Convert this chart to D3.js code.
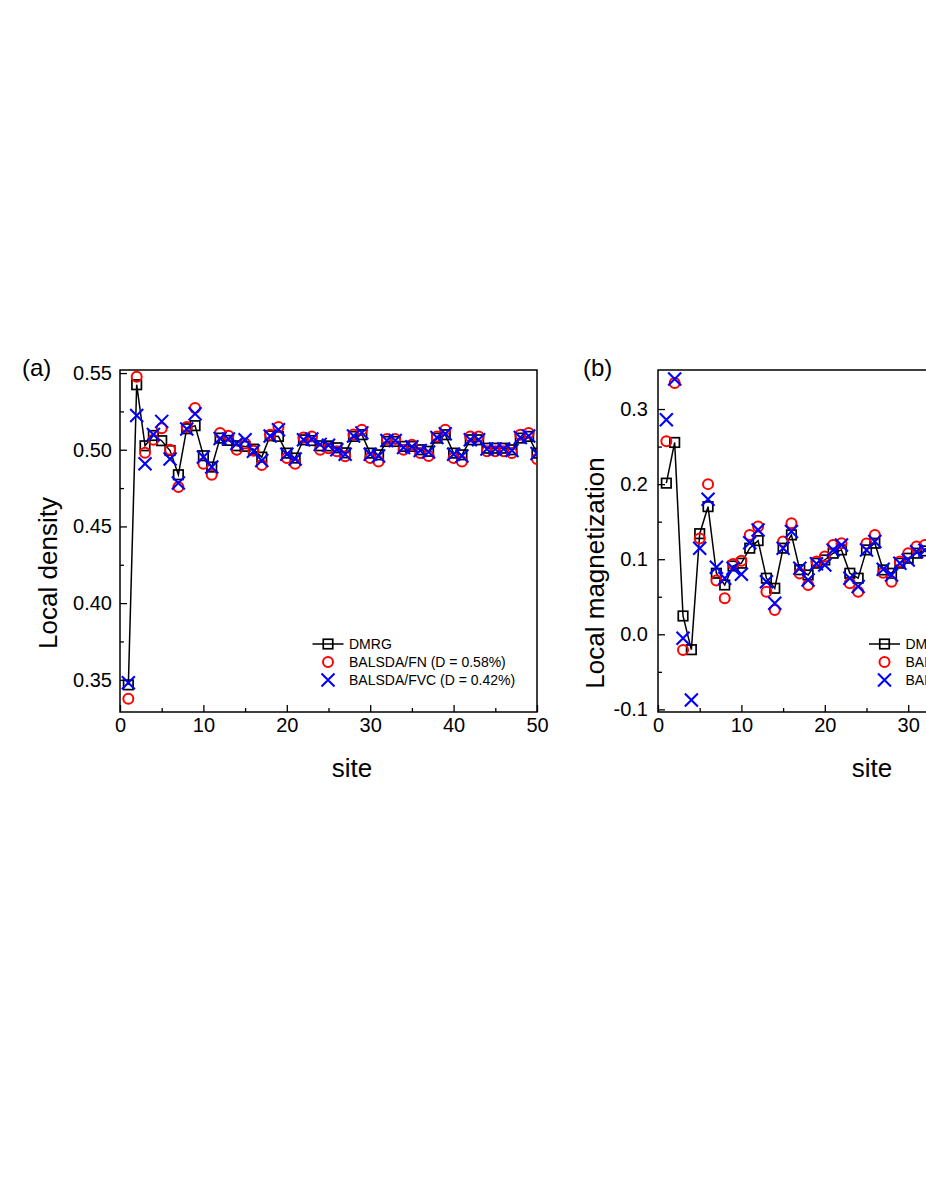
<!DOCTYPE html>
<html lang="en">

<head>
  <meta charset="UTF-8">
  <script src="https://d3js.org/d3.v7.min.js"></script>
  <title>Local density and local magnetization</title>
  <style>
    body {
      margin: 0;
      background-color: white;
    }

    svg text {
      font-family: "Liberation Sans", Arial, sans-serif;
      fill: black;
    }
  </style>
</head>

<body>
  <div id="chart"></div>
</body>

<script>
  // ---- data ----
  var sitesA = [1, 2, 3, 4, 5, 6, 7, 8, 9, 10, 11, 12, 13, 14, 15, 16, 17, 18, 19, 20,
    21, 22, 23, 24, 25, 26, 27, 28, 29, 30, 31, 32, 33, 34, 35, 36, 37, 38, 39, 40,
    41, 42, 43, 44, 45, 46, 47, 48, 49, 50];

  var dmrgA = [0.3467, 0.5424, 0.5026, 0.5093, 0.5059, 0.4995, 0.4837, 0.5137, 0.5157, 0.4961,
    0.4887, 0.5076, 0.5061, 0.5026, 0.5022, 0.5004, 0.4952, 0.5091, 0.5087, 0.4978,
    0.4946, 0.5065, 0.5060, 0.5026, 0.5025, 0.5013, 0.4980, 0.5087, 0.5098, 0.4978,
    0.4967, 0.5054, 0.5054, 0.5022, 0.5022, 0.5000, 0.4990, 0.5076, 0.5098, 0.4978,
    0.4967, 0.5065, 0.5065, 0.5010, 0.5010, 0.5010, 0.5000, 0.5076, 0.5087, 0.4978];

  var fnA = [0.3376, 0.5476, 0.4980, 0.5065, 0.5140, 0.5000, 0.4757, 0.5148, 0.5272, 0.4909,
    0.4837, 0.5109, 0.5091, 0.5000, 0.5040, 0.4994, 0.4900, 0.5098, 0.5148, 0.4946,
    0.4909, 0.5080, 0.5087, 0.5000, 0.5010, 0.4990, 0.4957, 0.5100, 0.5130, 0.4946,
    0.4924, 0.5070, 0.5070, 0.5000, 0.5033, 0.4978, 0.4960, 0.5087, 0.5130, 0.4946,
    0.4924, 0.5087, 0.5087, 0.4990, 0.4990, 0.4990, 0.4978, 0.5098, 0.5109, 0.4939];

  var fvcA = [0.3480, 0.5224, 0.4909, 0.5100, 0.5185, 0.4940, 0.4783, 0.5135, 0.5235, 0.4952,
    0.4887, 0.5074, 0.5070, 0.5040, 0.5065, 0.4990, 0.4930, 0.5090, 0.5130, 0.4970,
    0.4940, 0.5065, 0.5070, 0.5035, 0.5030, 0.5000, 0.4970, 0.5090, 0.5110, 0.4970,
    0.4960, 0.5060, 0.5060, 0.5015, 0.5020, 0.4995, 0.4985, 0.5080, 0.5105, 0.4970,
    0.4960, 0.5065, 0.5065, 0.5005, 0.5005, 0.5005, 0.4995, 0.5080, 0.5090, 0.4975];

  // panel (b) is cut by the page edge, only the visible sites are kept
  var sitesB = [1, 2, 3, 4, 5, 6, 7, 8, 9, 10, 11, 12, 13, 14, 15, 16,
    17, 18, 19, 20, 21, 22, 23, 24, 25, 26, 27, 28, 29, 30, 31, 32];

  var dmrgB = [0.2013, 0.2555, 0.0244, -0.0205, 0.1340, 0.1700, 0.0813, 0.0657, 0.0910, 0.0947,
    0.1147, 0.1248, 0.0747, 0.0613, 0.1147, 0.1324, 0.0860, 0.0790, 0.0947, 0.0990,
    0.1080, 0.1124, 0.0813, 0.0747, 0.1124, 0.1213, 0.0857, 0.0813, 0.0947, 0.1013,
    0.1080, 0.1110];

  var fnB = [0.2570, 0.3347, -0.0210, -0.1250, 0.1275, 0.2000, 0.0715, 0.0480, 0.0937, 0.0980,
    0.1324, 0.1435, 0.0568, 0.0324, 0.1235, 0.1480, 0.0810, 0.0657, 0.0968, 0.1035,
    0.1190, 0.1213, 0.0680, 0.0568, 0.1210, 0.1324, 0.0820, 0.0700, 0.0970, 0.1080,
    0.1168, 0.1190];

  var fvcB = [0.2857, 0.3400, -0.0053, -0.0876, 0.1147, 0.1800, 0.0893, 0.0747, 0.0880, 0.0800,
    0.1220, 0.1390, 0.0700, 0.0413, 0.1147, 0.1370, 0.0880, 0.0724, 0.0940, 0.0924,
    0.1124, 0.1190, 0.0747, 0.0635, 0.1124, 0.1235, 0.0867, 0.0790, 0.0947, 0.0990,
    0.1100, 0.1120];

  var xTicks = [0, 10, 20, 30, 40, 50];
  var xMinor = [5, 15, 25, 35, 45];
  var yTicksA = [0.35, 0.40, 0.45, 0.50, 0.55];
  var yMinorA = [0.375, 0.425, 0.475, 0.525];
  var yTicksB = [-0.1, 0.0, 0.1, 0.2, 0.3];
  var yMinorB = [-0.05, 0.05, 0.15, 0.25];

  var legendA = ["DMRG", "BALSDA/FN (D = 0.58%)", "BALSDA/FVC (D = 0.42%)"];
  var legendB = ["DMRG", "BALSDA/FN", "BALSDA/FVC"];

  var svg = d3.select("#chart")
    .append("svg")
    .attr("width", 926)
    .attr("height", 1199);

  var plotTop = 370, plotBottom = 712;

  function drawPanel(p) {
    var g = svg.append("g");

    var x = d3.scaleLinear().domain([0, 50]).range([p.left, p.left + 417]);
    var y = d3.scaleLinear().domain(p.yDomain).range([plotBottom, plotTop]);

    g.append("clipPath").attr("id", p.id + "clip")
      .append("rect")
      .attr("x", p.left).attr("y", plotTop)
      .attr("width", 417).attr("height", plotBottom - plotTop);

    // frame
    g.append("rect")
      .attr("x", p.left).attr("y", plotTop)
      .attr("width", 417).attr("height", plotBottom - plotTop)
      .attr("fill", "none")
      .attr("stroke", "black")
      .attr("stroke-width", 1.5);

    // bottom axis, ticks inward
    var xa = g.append("g")
      .attr("transform", "translate(0," + plotBottom + ")")
      .call(d3.axisBottom(x).tickValues(xTicks).tickSizeInner(-7).tickSizeOuter(0).tickPadding(6).tickFormat(d3.format("d")));
    g.append("g")
      .attr("transform", "translate(0," + plotBottom + ")")
      .call(d3.axisBottom(x).tickValues(xMinor).tickSizeInner(-4).tickSizeOuter(0).tickFormat(""));

    var ya = g.append("g")
      .attr("transform", "translate(" + p.left + ",0)")
      .call(d3.axisLeft(y).tickValues(p.yTicks).tickSizeInner(-7).tickSizeOuter(0).tickPadding(p.yPad).tickFormat(p.yFormat));
    g.append("g")
      .attr("transform", "translate(" + p.left + ",0)")
      .call(d3.axisLeft(y).tickValues(p.yMinor).tickSizeInner(-4).tickSizeOuter(0).tickFormat(""));

    g.selectAll(".domain").remove();
    g.selectAll(".tick line").attr("stroke", "black").attr("stroke-width", 1.3);
    xa.selectAll("text").style("font-size", "20px");
    ya.selectAll("text").style("font-size", "20px");

    // titles
    g.append("text")
      .attr("x", p.left + p.siteDx)
      .attr("y", 777)
      .attr("text-anchor", "middle")
      .style("font-size", "26px")
      .text("site");

    g.append("text")
      .attr("transform", "translate(" + p.ylabX + ",573) rotate(-90)")
      .attr("text-anchor", "middle")
      .style("font-size", "26px")
      .text(p.ylabel);

    g.append("text")
      .attr("x", p.tagX)
      .attr("y", 376)
      .style("font-size", "24px")
      .text(p.tag);

    var data = p.sites.map(function (s, i) {
      return { s: s, d: p.dmrg[i], f: p.fn[i], v: p.fvc[i] };
    });

    var plot = g.append("g").attr("clip-path", "url(#" + p.id + "clip)");

    // DMRG line with open squares
    plot.append("path")
      .datum(data)
      .attr("fill", "none")
      .attr("stroke", "black")
      .attr("stroke-width", 1.5)
      .attr("d", d3.line().x(function (d) { return x(d.s); }).y(function (d) { return y(d.d); }));

    plot.selectAll(".sq")
      .data(data)
      .enter()
      .append("rect")
      .attr("x", function (d) { return x(d.s) - 4.75; })
      .attr("y", function (d) { return y(d.d) - 4.75; })
      .attr("width", 9.5)
      .attr("height", 9.5)
      .attr("fill", "none")
      .attr("stroke", "black")
      .attr("stroke-width", 1.7);

    plot.selectAll(".ci")
      .data(data)
      .enter()
      .append("circle")
      .attr("cx", function (d) { return x(d.s); })
      .attr("cy", function (d) { return y(d.f); })
      .attr("r", 5)
      .attr("fill", "none")
      .attr("stroke", "#ff0000")
      .attr("stroke-width", 2);

    plot.selectAll(".cr")
      .data(data)
      .enter()
      .append("path")
      .attr("d", function (d) {
        var cx = x(d.s), cy = y(d.v), r = 6.5;
        return "M" + (cx - r) + "," + (cy - r) + "L" + (cx + r) + "," + (cy + r) +
          "M" + (cx - r) + "," + (cy + r) + "L" + (cx + r) + "," + (cy - r);
      })
      .attr("stroke", "#0000ff")
      .attr("stroke-width", 2.1);

    // legend
    var lg = g.append("g");
    var lx = p.legX, rows = [644, 662, 680];
    lg.append("line")
      .attr("x1", lx - 15.5).attr("x2", lx + 15.5)
      .attr("y1", rows[0]).attr("y2", rows[0])
      .attr("stroke", "black").attr("stroke-width", 1.5);
    lg.append("rect")
      .attr("x", lx - 4.75).attr("y", rows[0] - 4.75)
      .attr("width", 9.5).attr("height", 9.5)
      .attr("fill", "none").attr("stroke", "black").attr("stroke-width", 1.7);
    lg.append("circle")
      .attr("cx", lx).attr("cy", rows[1]).attr("r", 5)
      .attr("fill", "none").attr("stroke", "#ff0000").attr("stroke-width", 2);
    lg.append("path")
      .attr("d", "M" + (lx - 6.5) + "," + (rows[2] - 6.5) + "L" + (lx + 6.5) + "," + (rows[2] + 6.5) +
        "M" + (lx - 6.5) + "," + (rows[2] + 6.5) + "L" + (lx + 6.5) + "," + (rows[2] - 6.5))
      .attr("stroke", "#0000ff").attr("stroke-width", 2.1);
    lg.selectAll(".lt")
      .data(p.legend)
      .enter()
      .append("text")
      .attr("x", lx + 21)
      .attr("y", function (d, i) { return rows[i]; })
      .attr("dy", "0.36em")
      .style("font-size", "14px")
      .text(function (d) { return d; });
  }

  drawPanel({
    id: "a", left: 120, tag: "(a)", tagX: 22, ylabel: "Local density", ylabX: 57,
    sites: sitesA, dmrg: dmrgA, fn: fnA, fvc: fvcA,
    yDomain: [0.329, 0.552], yTicks: yTicksA, yMinor: yMinorA, yPad: 8,
    yFormat: function (d) { return d.toFixed(2); },
    siteDx: 232, legX: 328, legend: legendA
  });

  drawPanel({
    id: "b", left: 658, tag: "(b)", tagX: 583, ylabel: "Local magnetization", ylabX: 604,
    sites: sitesB, dmrg: dmrgB, fn: fnB, fvc: fvcB,
    yDomain: [-0.1035, 0.352], yTicks: yTicksB, yMinor: yMinorB, yPad: 10,
    yFormat: function (d) { return d.toFixed(1); },
    siteDx: 214, legX: 884.5, legend: legendB
  });
</script>

</html>
